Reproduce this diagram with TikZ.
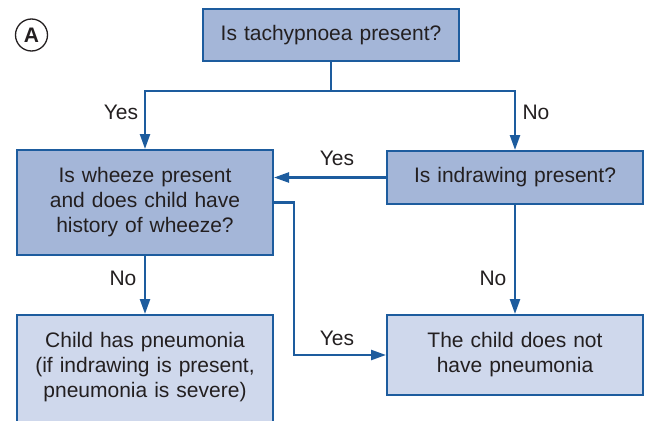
\documentclass[tikz,border=0pt]{standalone}
\usepackage{fontspec}
\setmainfont{Liberation Sans}
\usepackage{xcolor}
\usetikzlibrary{arrows.meta, positioning}

\definecolor{flowblue}{HTML}{1D5C9E}
\definecolor{darkfill}{HTML}{A4B6D8}
\definecolor{lightfill}{HTML}{CFD8EC}
\definecolor{inkgray}{HTML}{231F20}

\tikzset{
  question/.style={rectangle, draw=flowblue, line width=2pt, fill=darkfill,
    minimum width=256pt, inner sep=0pt, text width=240pt, align=center},
  answer/.style={rectangle, draw=flowblue, line width=2pt, fill=lightfill,
    minimum width=256pt, inner sep=0pt, text width=240pt, align=center},
  flow/.style={draw=flowblue, line width=2.4pt},
  flowarrow/.style={flow, -{Triangle[length=15pt, width=10pt]}},
  choice/.style={inner sep=0pt}
}

\begin{document}
\begin{tikzpicture}[x=1pt, y=-1pt, text=inkgray,
    font=\fontsize{21}{25}\selectfont]
    \clip (0,0) rectangle (647,420);

    % Nodes
    \node[circle, draw=inkgray, line width=1.3pt, minimum size=32pt, inner sep=0pt,
      font=\fontsize{21}{24}\selectfont\bfseries] (panel) at (31.5,35) {A};
    \node[question, minimum height=52pt] (tachy) at (331,35) {Is tachypnoea present?};
    \node[question, minimum height=105pt] (wheeze) at (145,202.5)
      {Is wheeze present\\and does child have\\history of wheeze?};
    \node[question, minimum height=53pt] (indraw) at (515,177.5) {Is indrawing present?};
    \node[answer, minimum height=120pt] (pneu) at (145,375)
      {Child has pneumonia\\(if indrawing is present,\\pneumonia is severe)\\[-5pt]\mbox{}};
    \node[answer, minimum height=80pt] (nopneu) at (515,355)
      {The child does not\\have pneumonia};
    \coordinate (split) at (331,91);

    % Labels
    \node[choice] (yesA) at (121,112) {Yes};
    \node[choice] (noA) at (536,112) {No};
    \node[choice] (yesB) at (337,158) {Yes};
    \node[choice] (noB) at (123,278) {No};
    \node[choice] (noC) at (493,278) {No};
    \node[choice] (yesC) at (337,338) {Yes};

    % Edges
    \draw[flow] (tachy.south) -- (split);
    \draw[flowarrow] (split) -| (wheeze.north);
    \draw[flowarrow] (split) -| (indraw.north);
    \draw[flowarrow] (indraw.west) -- (wheeze.east |- indraw.west);
    \draw[flowarrow] (wheeze.east) -- ++(20,0) |- (nopneu.west);
    \draw[flowarrow] (wheeze.south) -- (pneu.north);
    \draw[flowarrow] (indraw.south) -- (nopneu.north);
\end{tikzpicture}
\end{document}
